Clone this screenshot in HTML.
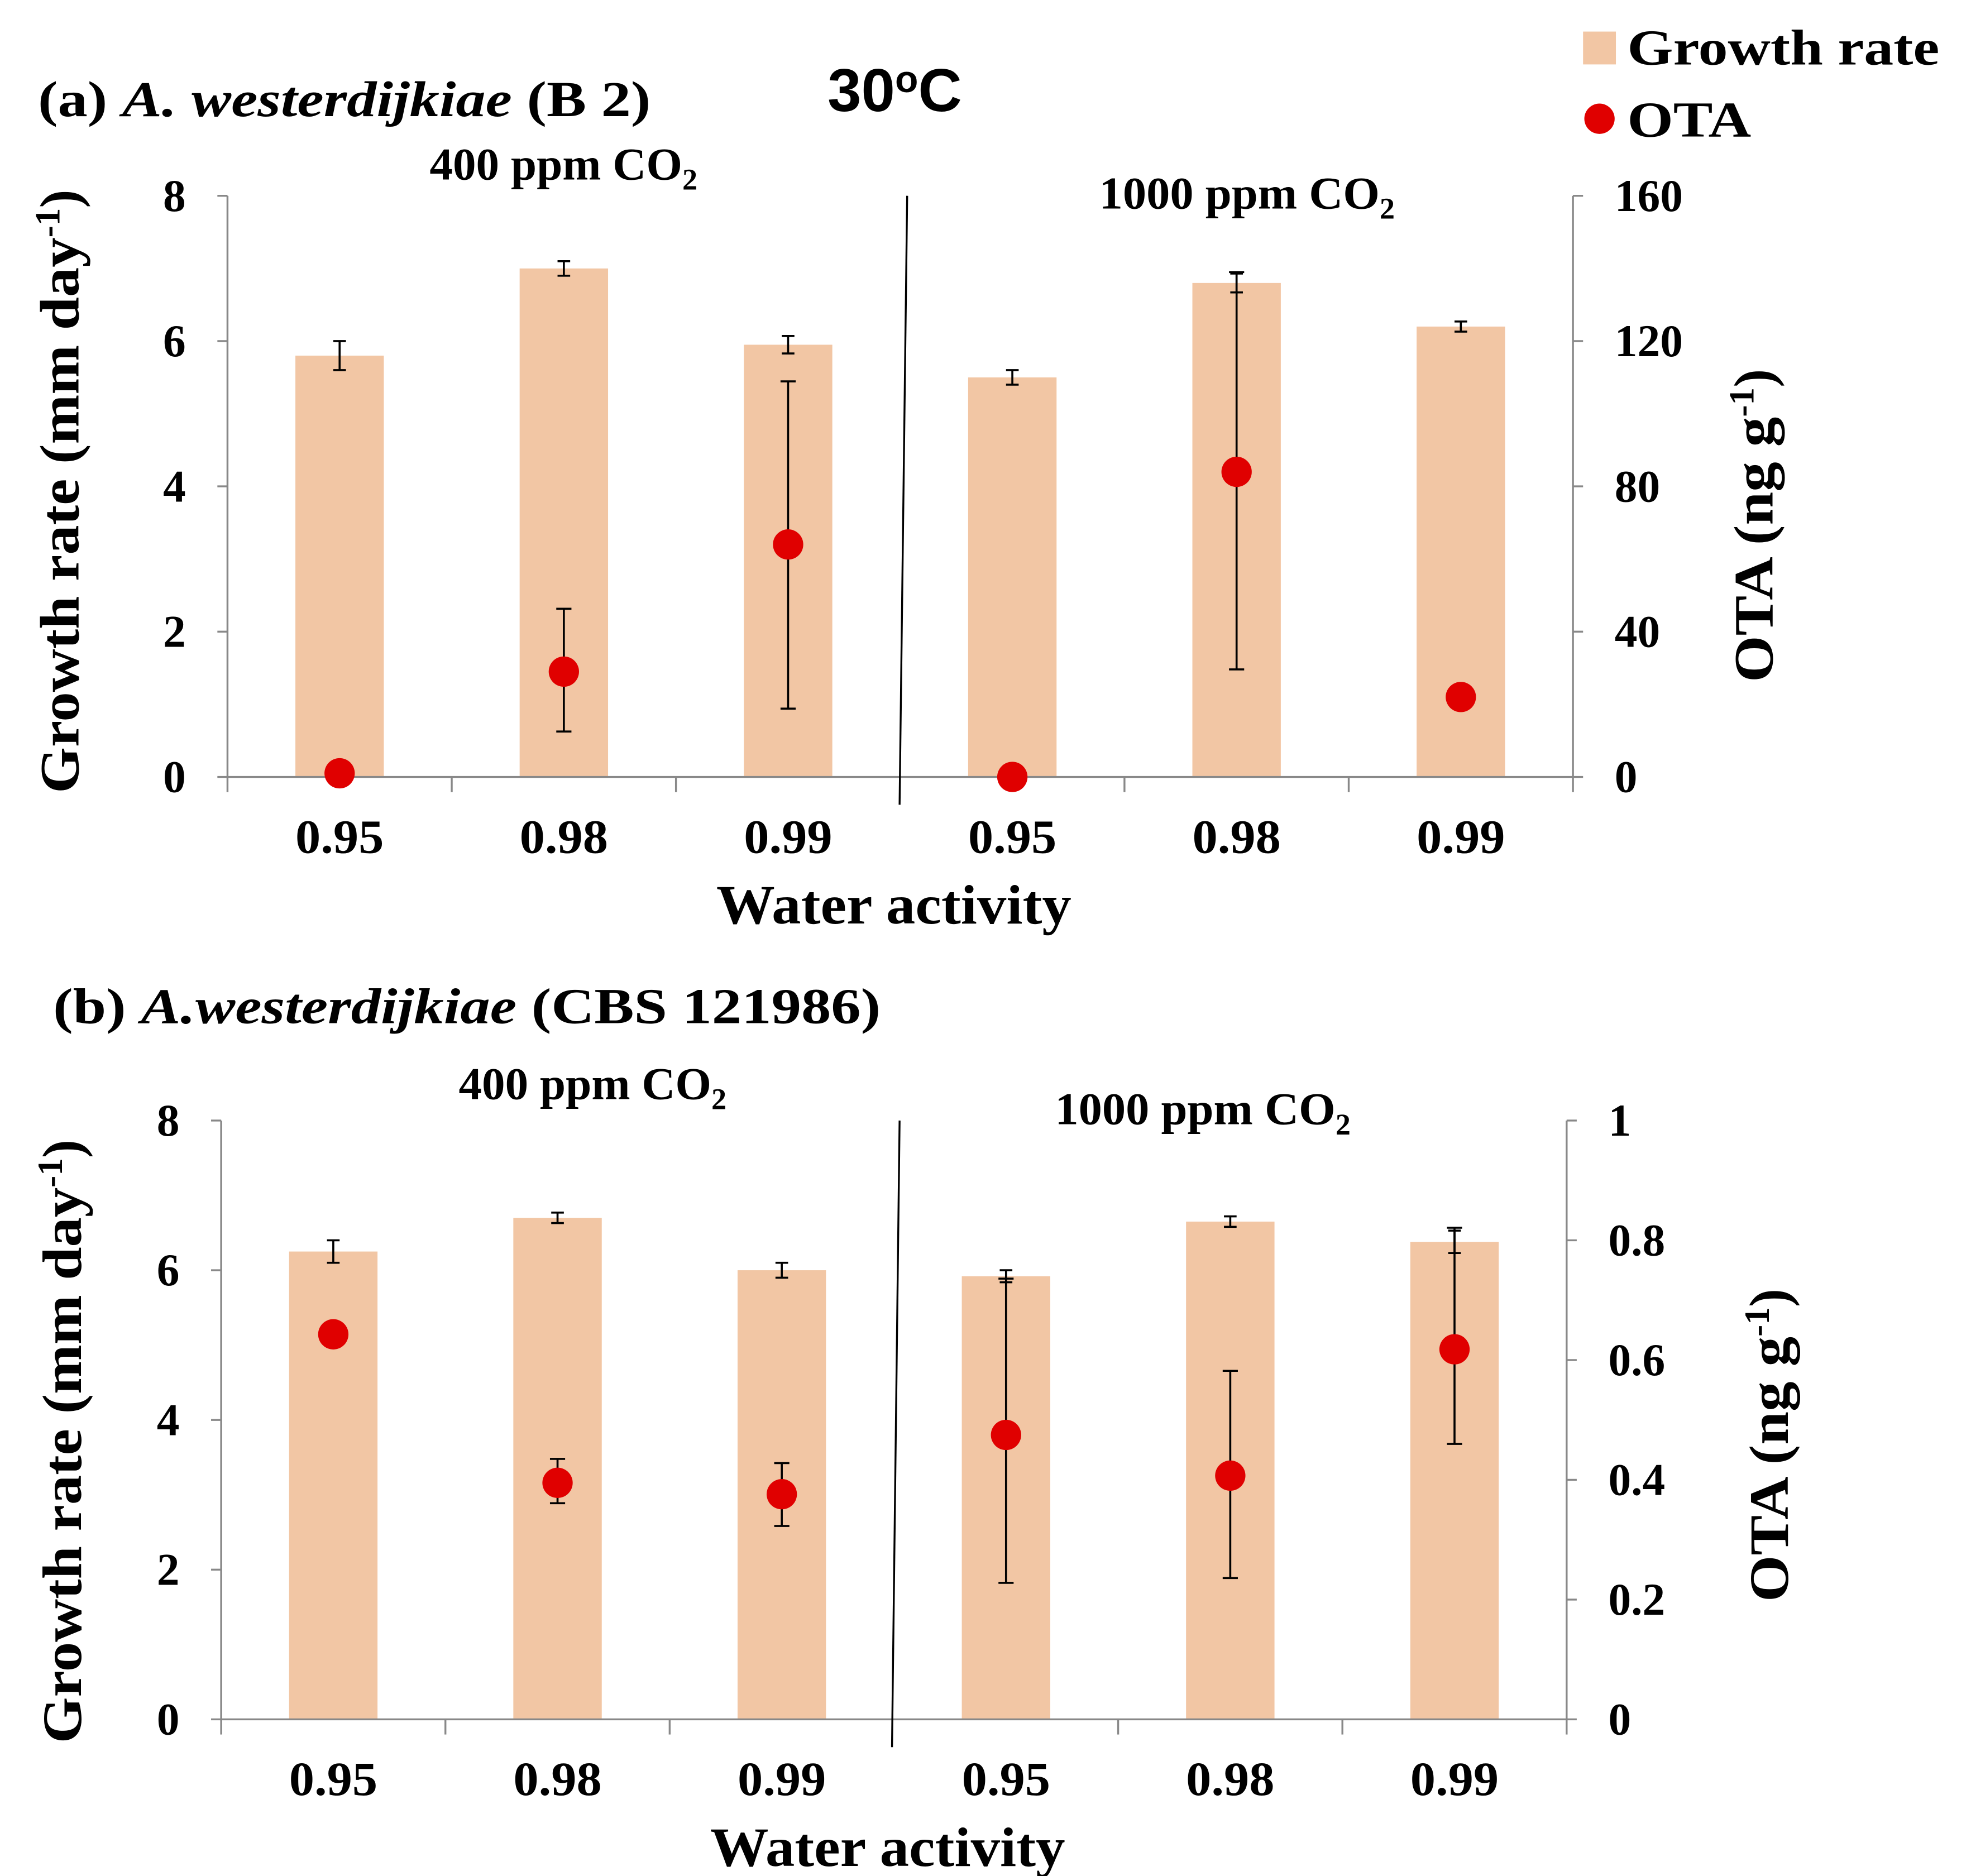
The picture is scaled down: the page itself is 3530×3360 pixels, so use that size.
<!DOCTYPE html>
<html><head><meta charset="utf-8">
<style>html,body{margin:0;padding:0;background:#fff}svg{display:block}
text{font-family:"Liberation Serif",serif;font-weight:bold;fill:#000}</style></head>
<body>
<svg id="chart" width="3530" height="3360" viewBox="0 0 1560 1485" xmlns="http://www.w3.org/2000/svg">
<g>
<rect x="1253" y="25" width="26" height="26" fill="#f2c6a4"/>
<text x="1288" y="51" font-size="40" textLength="247" lengthAdjust="spacingAndGlyphs">Growth rate</text>
<circle cx="1266" cy="94" r="12" fill="#e00000"/>
<text x="1288" y="108" font-size="40" textLength="98" lengthAdjust="spacingAndGlyphs">OTA</text>
</g>
<text x="655" y="88" font-size="48" style="font-family:'Liberation Sans',sans-serif">30<tspan font-size="30" dy="-15">o</tspan><tspan dy="15">C</tspan></text>
<g id="pa"></g>
<g id="pb"></g>
</svg>
<script>
const categories = ["0.95","0.98","0.99","0.95","0.98","0.99"];
const growthA = [5.8, 7.0, 5.95, 5.5, 6.8, 6.2];
const growthErrA = [0.2, 0.1, 0.12, 0.1, 0.13, 0.07];
const otaA = [1, 29, 64, 0, 84, 22];
const otaLoA = [1, 12.5, 18.8, 0, 29.6, 22];
const otaHiA = [1, 46.3, 108.9, 0, 139, 22];
const growthB = [6.25, 6.7, 6.0, 5.92, 6.65, 6.38];
const growthErrB = [0.15, 0.07, 0.1, 0.08, 0.07, 0.15];
const otaB = [0.643, 0.395, 0.376, 0.475, 0.407, 0.618];
const otaLoB = [0.643, 0.361, 0.323, 0.228, 0.236, 0.46];
const otaHiB = [0.643, 0.435, 0.428, 0.736, 0.582, 0.821];
const leftTicks = [0, 2, 4, 6, 8];
const rightTicksA = [0, 40, 80, 120, 160];
const rightTicksB = ["0", "0.2", "0.4", "0.6", "0.8", "1"];
const NS = "http://www.w3.org/2000/svg";
function mk(p, tag, attrs, txt) {
  const e = document.createElementNS(NS, tag);
  for (const k in attrs) e.setAttribute(k, attrs[k]);
  if (txt !== undefined) e.textContent = txt;
  p.appendChild(e); return e;
}
function panel(g, c) {
  const yL = v => c.y0 - (v / 8) * (c.y0 - c.y1);
  const yR = v => c.y0 - (v / c.rmax) * (c.y0 - c.y1);
  const bw = (c.x1 - c.x0) / categories.length;
  const xC = i => c.x0 + bw * (i + 0.5);
  let t = mk(g, "text", {x: c.titleX, y: c.titleY, "font-size": 40, textLength: c.titleLen, lengthAdjust: "spacingAndGlyphs"});
  
  
  t.innerHTML = c.title;
  c.growth.forEach((v, i) => {
    const r = mk(g, "rect", {x: xC(i) - 35, y: yL(v), width: 70, height: yL(0) - yL(v), fill: "#f2c6a4"});
    
    
    const e = mk(g, "path", {d: `M${xC(i)-5},${yL(v+c.gerr[i])}h10M${xC(i)},${yL(v+c.gerr[i])}V${yL(v-c.gerr[i])}M${xC(i)-5},${yL(v-c.gerr[i])}h10`, stroke: "#000", "stroke-width": 1.6, fill: "none"});
    
    
  });
  const ax = mk(g, "path", {d: `M${c.x0},${c.y1}V${c.y0}H${c.x1}V${c.y1}`, stroke: "#888", "stroke-width": 1.5, fill: "none"});
  
  
  for (let i = 0; i <= categories.length; i++) {
    if (i === 3) continue;
    const tk = mk(g, "line", {x1: c.x0 + bw * i, x2: c.x0 + bw * i, y1: c.y0, y2: c.y0 + 12, stroke: "#888", "stroke-width": 1.5});
    
    
  }
  leftTicks.forEach(v => {
    const l = mk(g, "line", {x1: c.x0 - 8, x2: c.x0, y1: yL(v), y2: yL(v), stroke: "#888", "stroke-width": 1.5});
    
    
    const tx = mk(g, "text", {x: c.x0 - 33, y: yL(v) + 12, "font-size": 36, "text-anchor": "end"}, String(v));
    
    
  });
  c.rticks.forEach((s, i) => {
    const v = i * c.rmax / (c.rticks.length - 1);
    const l = mk(g, "line", {x1: c.x1, x2: c.x1 + 8, y1: yR(v), y2: yR(v), stroke: "#888", "stroke-width": 1.5});
    
    
    const tx = mk(g, "text", {x: c.x1 + 33, y: yR(v) + 12, "font-size": 36}, String(s));
    
    
  });
  categories.forEach((s, i) => {
    const tx = mk(g, "text", {x: xC(i) - 35, y: c.y0 + 60, "font-size": 38, textLength: 70, lengthAdjust: "spacingAndGlyphs"}, s);
    
    
  });
  const sep = mk(g, "line", {x1: c.sepTop, y1: c.y1, x2: c.sepBot, y2: c.y0 + 22, stroke: "#000", "stroke-width": 1.5});
  
  
  c.ota.forEach((v, i) => {
    if (c.hi[i] !== v) {
      const e = mk(g, "path", {d: `M${xC(i)-6},${yR(c.hi[i])}h12M${xC(i)},${yR(c.hi[i])}V${yR(c.lo[i])}M${xC(i)-6},${yR(c.lo[i])}h12`, stroke: "#000", "stroke-width": 1.6, fill: "none"});
      
      
    }
    const p = mk(g, "circle", {cx: xC(i), cy: yR(v), r: 12, fill: "#e00000"});
    
    
  });
  const l1 = mk(g, "text", {x: c.co2a[0], y: c.co2a[1], "font-size": 36});
  
  
  l1.innerHTML = '<tspan textLength="200" lengthAdjust="spacingAndGlyphs">400 ppm CO</tspan><tspan font-size="24" dy="8">2</tspan>';
  const l2 = mk(g, "text", {x: c.co2b[0], y: c.co2b[1], "font-size": 36});
  
  
  l2.innerHTML = '<tspan textLength="222" lengthAdjust="spacingAndGlyphs">1000 ppm CO</tspan><tspan font-size="24" dy="8">2</tspan>';
  const xt = mk(g, "text", {x: c.xtX, y: c.y0 + 116, "font-size": 44, textLength: 281, lengthAdjust: "spacingAndGlyphs"}, "Water  activity");
  
  
  const yt = mk(g, "text", {x: 0, y: 0, "font-size": 44, transform: `translate(${c.ylx},${c.ylBottom}) rotate(-90)`});
  
  
  yt.innerHTML = '<tspan textLength="440" lengthAdjust="spacingAndGlyphs">Growth  rate (mm day</tspan><tspan font-size="28" dy="-15">-1</tspan><tspan dy="15">)</tspan>';
  const rt = mk(g, "text", {x: 0, y: 0, "font-size": 44, transform: `translate(${c.yrx},${c.yrBottom}) rotate(-90)`});
  
  
  rt.innerHTML = '<tspan textLength="210" lengthAdjust="spacingAndGlyphs">OTA (ng g</tspan><tspan font-size="28" dy="-15">-1</tspan><tspan dy="15">)</tspan>';
}
panel(document.getElementById("pa"), {x0: 180, x1: 1245, y0: 615, y1: 155, rmax: 160, growth: growthA, gerr: growthErrA, ota: otaA, lo: otaLoA, hi: otaHiA, rticks: rightTicksA, sepTop: 718, sepBot: 712, title: '(a) <tspan font-style="italic">A. westerdijkiae</tspan> (B 2)', titleLen: 485, titleX: 30, titleY: 92, co2a: [340, 142], co2b: [870, 165], xtX: 567, ylx: 62, ylBottom: 628, yrx: 1403, yrBottom: 540});
panel(document.getElementById("pb"), {x0: 175, x1: 1240, y0: 1361, y1: 887, rmax: 1, growth: growthB, gerr: growthErrB, ota: otaB, lo: otaLoB, hi: otaHiB, rticks: rightTicksB, sepTop: 712, sepBot: 706, title: '(b) <tspan font-style="italic">A.westerdijkiae</tspan> (CBS 121986)', titleLen: 655, titleX: 42, titleY: 810, co2a: [363, 870], co2b: [835, 890], xtX: 562, ylx: 64, ylBottom: 1380, yrx: 1415, yrBottom: 1268});
</script>
</body></html>
